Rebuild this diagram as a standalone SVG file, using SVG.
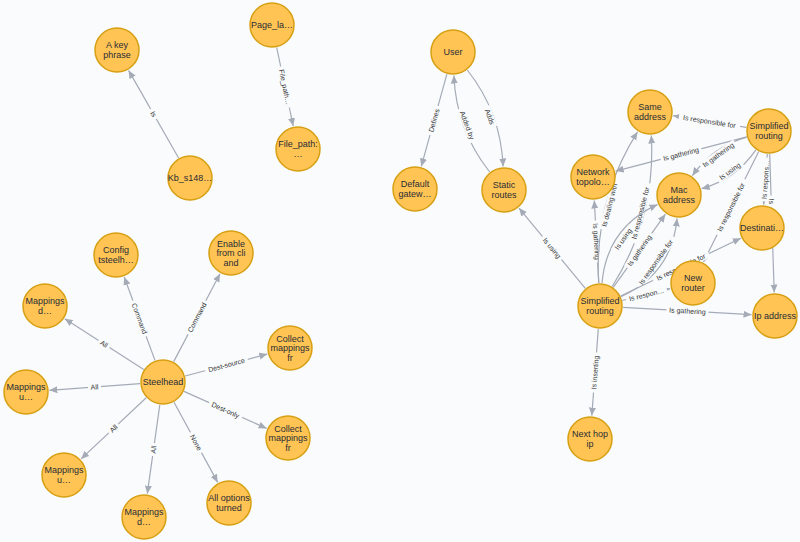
<svg xmlns="http://www.w3.org/2000/svg" width="800" height="542" viewBox="0 0 800 542">
<style>
.bg{fill:#F9FBFD}
.node circle{fill:#FFC454;stroke:#D7A013;stroke-width:1.5}
.node text{font-family:"Liberation Sans",Arial,sans-serif;font-size:9px;fill:#2A2C34;text-anchor:middle;dominant-baseline:central}
.edge{fill:none;stroke:#A5ABB6;stroke-width:1.2;marker-end:url(#arr)}
.plain{fill:none;stroke:#A5ABB6;stroke-width:1.2}
.lbl rect{fill:#F9FBFD}
.lbl text{font-family:"Liberation Sans",Arial,sans-serif;font-size:7px;fill:#333;text-anchor:middle;dominant-baseline:central}
</style>
<defs>
<marker id="arr" viewBox="0 0 10 10" refX="10" refY="5" markerWidth="8" markerHeight="8" markerUnits="userSpaceOnUse" orient="auto"><path d="M0,0.6 L10,5 L0,9.4 z" fill="#A5ABB6"/></marker>
</defs>
<rect class="bg" width="800" height="542"/>
<g id="connectors">
<path class="edge" d="M178.6,158 L128.6,70.4"/>
<g class="lbl" transform="translate(153.5,114) rotate(60.3)"><rect x="-5.7" y="-4" width="11.4" height="8"/><text>Is</text></g>
<path class="edge" d="M276.7,47.5 L293.2,126"/>
<g class="lbl" transform="translate(285,87) rotate(78.2)"><rect x="-21" y="-4" width="42" height="8"/><text>File_path…</text></g>

<path class="edge" d="M155,360.4 L124.2,277"/>
<g class="lbl" transform="translate(139.5,318.5) rotate(69.7)"><rect x="-19" y="-4" width="38" height="8"/><text>Command</text></g>
<path class="edge" d="M173.7,361.6 L220,273.8"/>
<g class="lbl" transform="translate(197,317.5) rotate(-62.2)"><rect x="-19" y="-4" width="38" height="8"/><text>Command</text></g>
<path class="edge" d="M143.7,369.6 L64.8,318.7"/>
<g class="lbl" transform="translate(104,344) rotate(32.8)"><rect x="-6.5" y="-4" width="13" height="8"/><text>All</text></g>
<path class="edge" d="M140.1,383.7 L49.4,390.3"/>
<g class="lbl" transform="translate(94.5,387) rotate(-4.2)"><rect x="-6.5" y="-4" width="13" height="8"/><text>All</text></g>
<path class="edge" d="M185.2,376 L267.3,354.1"/>
<g class="lbl" transform="translate(226.5,365) rotate(-15)"><rect x="-22" y="-4" width="44" height="8"/><text>Dest-source</text></g>
<path class="edge" d="M184,391.4 L266.6,428.4"/>
<g class="lbl" transform="translate(225.5,410) rotate(24.1)"><rect x="-18" y="-4" width="36" height="8"/><text>Dest-only</text></g>
<path class="edge" d="M146.2,397.8 L81.1,458.9"/>
<g class="lbl" transform="translate(113.5,428.5) rotate(-43.2)"><rect x="-6.5" y="-4" width="13" height="8"/><text>All</text></g>
<path class="edge" d="M159.8,404.8 L147.3,493.7"/>
<g class="lbl" transform="translate(153.5,449.5) rotate(-82)"><rect x="-6.5" y="-4" width="13" height="8"/><text>All</text></g>
<path class="edge" d="M174,402.2 L217.7,482.4"/>
<g class="lbl" transform="translate(196,442.5) rotate(61.4)"><rect x="-11.5" y="-4" width="23" height="8"/><text>None</text></g>

<path class="edge" d="M446.9,74.2 L421.3,166.4"/>
<g class="lbl" transform="translate(434,120.5) rotate(-74.5)"><rect x="-15" y="-4" width="30" height="8"/><text>Defines</text></g>
<path class="edge" d="M467.3,70 Q501,112.7 503.1,166.5"/>
<g class="lbl" transform="translate(489.8,116.8) rotate(69.7)"><rect x="-11" y="-4" width="22" height="8"/><text>Adds</text></g>
<path class="edge" d="M489.7,172 Q456,129.3 453.9,75.5"/>
<g class="lbl" transform="translate(467.2,125.2) rotate(69.7)"><rect x="-18" y="-4" width="36" height="8"/><text>Added by</text></g>
<path class="edge" d="M585.3,288.3 L519,208.1"/>
<g class="lbl" transform="translate(552,248) rotate(50.4)"><rect x="-15" y="-4" width="30" height="8"/><text>Is using</text></g>

<path class="edge" d="M746.3,127.4 L673.2,115.7"/>
<g class="lbl" transform="translate(709.5,121.5) rotate(9.1)"><rect x="-31" y="-4" width="62" height="8"/><text>Is responsible for</text></g>
<path class="edge" d="M746.7,136.8 L615.7,171.1"/>
<g class="lbl" transform="translate(681,154) rotate(-14.6)"><rect x="-21" y="-4" width="42" height="8"/><text>Is gathering</text></g>
<path class="edge" d="M746.8,137.1 Q712.4,146.7 692.4,175.7"/>
<g class="lbl" transform="translate(718.2,154.9) rotate(-35.4)"><rect x="-21" y="-4" width="42" height="8"/><text>Is gathering</text></g>
<path class="edge" d="M755.9,149.9 Q735.6,179.3 701.6,188.7"/>
<g class="lbl" transform="translate(729.8,171.2) rotate(-35.4)"><rect x="-15" y="-4" width="30" height="8"/><text>Is using</text></g>
<path class="edge" d="M758.7,151.6 L703.5,262"/>
<g class="lbl" transform="translate(731,207) rotate(-63.4)"><rect x="-31" y="-4" width="62" height="8"/><text>Is responsible for</text></g>
<path class="edge" d="M767.3,153.9 L763.7,204.6"/>
<g class="lbl" transform="translate(765.5,179.5) rotate(-85.9)"><rect x="-22" y="-4" width="44" height="8"/><text>Is respons…</text></g>
<path class="edge" d="M769.7,154 L774.2,292.5"/>
<g class="lbl" transform="translate(771.5,201.5) rotate(88.1)"><rect x="-6" y="-4" width="12" height="8"/><text>Is</text></g>

<path class="edge" d="M598.8,283 L594.3,200.5"/>
<g class="lbl" transform="translate(596.5,241.5) rotate(86.9)"><rect x="-21" y="-4" width="42" height="8"/><text>Is gathering</text></g>
<path class="edge" d="M598.7,283 Q594,201 637.5,131.9"/>
<g class="lbl" transform="translate(609.5,205) rotate(-75.5)"><rect x="-25.5" y="-4" width="51" height="8"/><text>Is dealing with</text></g>
<path class="edge" d="M612.2,286.5 Q656,217 651.3,135.5"/>
<g class="lbl" transform="translate(640.5,213) rotate(-75.5)"><rect x="-31" y="-4" width="62" height="8"/><text>Is responsible for</text></g>
<path class="edge" d="M602,283.1 Q606.9,227.3 657.5,204.6"/>
<g class="lbl" transform="translate(623.2,238.9) rotate(-54.6)"><rect x="-15" y="-4" width="30" height="8"/><text>Is using</text></g>
<path class="edge" d="M613.3,287.3 L665.4,214.2"/>
<g class="lbl" transform="translate(639.5,250.5) rotate(-54.6)"><rect x="-21" y="-4" width="42" height="8"/><text>Is gathering</text></g>
<path class="edge" d="M621,296.6 Q672.1,273.7 677,218.4"/>
<g class="lbl" transform="translate(655.8,262.1) rotate(-54.6)"><rect x="-31" y="-4" width="62" height="8"/><text>Is responsible for</text></g>
<path class="edge" d="M620.7,296 L740.8,238.2"/>
<g class="lbl" transform="translate(681,267) rotate(-25.7)"><rect x="-31" y="-4" width="62" height="8"/><text>Is responsible for</text></g>
<path class="edge" d="M622.3,300.5 L670.2,288.6"/>
<g class="lbl" transform="translate(646.5,294.5) rotate(-13.9)"><rect x="-21" y="-4" width="42" height="8"/><text>Is respon…</text></g>
<path class="edge" d="M623,307.3 L751.5,314.7"/>
<g class="lbl" transform="translate(687.5,311) rotate(3.3)"><rect x="-21" y="-4" width="42" height="8"/><text>Is gathering</text></g>
<path class="edge" d="M598.3,328.9 L591.8,415.6"/>
<g class="lbl" transform="translate(595,372.5) rotate(-85.7)"><rect x="-20" y="-4" width="40" height="8"/><text>Is inserting</text></g>
</g>
<g id="nodes">
<g class="node" id="n-key"><circle cx="117" cy="50" r="22"/><text x="117" y="45.3">A key</text><text x="117" y="54.7">phrase</text></g>
<g class="node" id="n-page"><circle cx="272" cy="25" r="22"/><text x="272" y="25">Page_la…</text></g>
<g class="node" id="n-file"><circle cx="298" cy="149" r="22"/><text x="298" y="144.3">File_path:</text><text x="298" y="153.7">…</text></g>
<g class="node" id="n-kb"><circle cx="190" cy="178" r="22"/><text x="190" y="178">Kb_s148…</text></g>
<g class="node" id="n-steel"><circle cx="163" cy="382" r="22"/><text x="163" y="382">Steelhead</text></g>
<g class="node" id="n-config"><circle cx="116" cy="255" r="22"/><text x="116" y="250.3">Config</text><text x="116" y="259.7">tsteelh…</text></g>
<g class="node" id="n-enable"><circle cx="231" cy="253" r="22"/><text x="231" y="243.5">Enable</text><text x="231" y="253">from cli</text><text x="231" y="262.5">and</text></g>
<g class="node" id="n-mapd1"><circle cx="45" cy="306" r="22"/><text x="45" y="301.3">Mappings</text><text x="45" y="310.7">d…</text></g>
<g class="node" id="n-coll1"><circle cx="290" cy="348" r="22"/><text x="290" y="338.5">Collect</text><text x="290" y="348">mappings</text><text x="290" y="357.5">fr</text></g>
<g class="node" id="n-mapu1"><circle cx="26" cy="392" r="22"/><text x="26" y="387.3">Mappings</text><text x="26" y="396.7">u…</text></g>
<g class="node" id="n-coll2"><circle cx="288" cy="438" r="22"/><text x="288" y="428.5">Collect</text><text x="288" y="438">mappings</text><text x="288" y="447.5">fr</text></g>
<g class="node" id="n-mapu2"><circle cx="64" cy="475" r="22"/><text x="64" y="470.3">Mappings</text><text x="64" y="479.7">u…</text></g>
<g class="node" id="n-allopt"><circle cx="229" cy="503" r="22"/><text x="229" y="498.3">All options</text><text x="229" y="507.7">turned</text></g>
<g class="node" id="n-mapd2"><circle cx="144" cy="517" r="22"/><text x="144" y="512.3">Mappings</text><text x="144" y="521.7">d…</text></g>
<g class="node" id="n-user"><circle cx="453" cy="52" r="22"/><text x="453" y="52">User</text></g>
<g class="node" id="n-defgw"><circle cx="415" cy="189" r="22"/><text x="415" y="184.3">Default</text><text x="415" y="193.7">gatew…</text></g>
<g class="node" id="n-static"><circle cx="504" cy="190" r="22"/><text x="504" y="185.3">Static</text><text x="504" y="194.7">routes</text></g>
<g class="node" id="n-same"><circle cx="650" cy="112" r="22"/><text x="650" y="107.3">Same</text><text x="650" y="116.7">address</text></g>
<g class="node" id="n-sr1"><circle cx="769" cy="131" r="22"/><text x="769" y="126.3">Simplified</text><text x="769" y="135.7">routing</text></g>
<g class="node" id="n-net"><circle cx="593" cy="177" r="22"/><text x="593" y="172.3">Network</text><text x="593" y="181.7">topolo…</text></g>
<g class="node" id="n-mac"><circle cx="679" cy="195" r="22"/><text x="679" y="190.3">Mac</text><text x="679" y="199.7">address</text></g>
<g class="node" id="n-dest"><circle cx="762" cy="228" r="22"/><text x="762" y="228">Destinati…</text></g>
<g class="node" id="n-newr"><circle cx="693" cy="283" r="22"/><text x="693" y="278.3">New</text><text x="693" y="287.7">router</text></g>
<g class="node" id="n-sr2"><circle cx="600" cy="306" r="22"/><text x="600" y="301.3">Simplified</text><text x="600" y="310.7">routing</text></g>
<g class="node" id="n-ip"><circle cx="775" cy="316" r="22"/><text x="775" y="316">Ip address</text></g>
<g class="node" id="n-nexthop"><circle cx="590" cy="439" r="22"/><text x="590" y="434.3">Next hop</text><text x="590" y="443.7">ip</text></g>
</g>
</svg>
